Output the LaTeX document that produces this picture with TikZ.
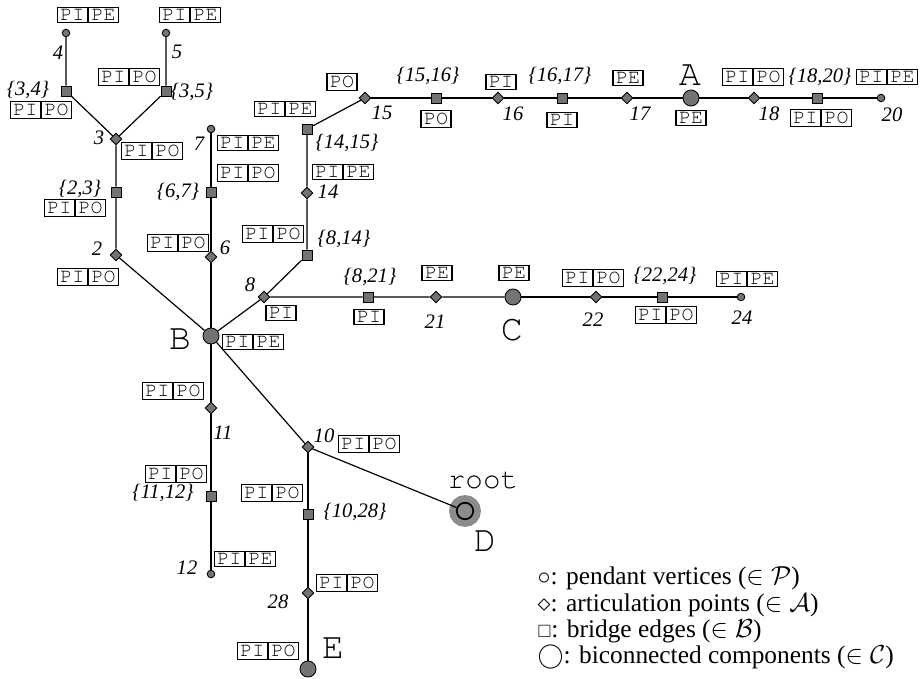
\documentclass[tikz,border=0pt]{standalone}
\usepackage{amsmath,amssymb}
\usepackage{fontspec}
\setmainfont{Liberation Serif}
\setmonofont{TeX Gyre Cursor}
\usepackage{tikz}
\usetikzlibrary{shapes,positioning}

\begin{document}
\begin{tikzpicture}[x=0.0162cm, y=-0.0162cm, line width=0.55pt]
\tikzset{
pend/.style     = {draw, shape=circle, fill=black!55, inner sep=0pt, minimum size=3.5pt, line width=0.4pt},
artic/.style    = {draw, shape=diamond, fill=black!55, inner sep=0pt, minimum size=5.4pt, line width=0.4pt},
bridge/.style   = {draw, shape=rectangle, fill=black!55, inner sep=0pt, minimum size=4.6pt, line width=0.4pt},
bicon/.style    = {draw, shape=circle, fill=black!55, inner sep=0pt, minimum size=7.4pt, line width=0.4pt},
rootc/.style    = {draw, shape=circle, fill=black!45, inner sep=0pt, minimum size=7.6pt, line width=0.8pt,
                   preaction={draw=black!45, line width=7pt}},
tag/.style      = {draw, shape=rectangle, font=\fontsize{9.2}{9}\selectfont\ttfamily, inner xsep=1.4pt, inner ysep=1pt, line width=0.5pt},
tagg/.style     = {tag, shape=rectangle split, rectangle split horizontal, rectangle split parts=2},
num/.style      = {font=\fontsize{9.5}{10}\selectfont\itshape, inner sep=0pt},
big/.style      = {font=\fontsize{17}{17}\selectfont\ttfamily, inner sep=0pt},
legend/.style   = {font=\fontsize{11.7}{12.1}\selectfont, inner sep=0pt, anchor=west, align=left},
}
    \useasboundingbox (0,0) rectangle (921,679);

    % Left subtree nodes
    \node [pend]   (v4)    at (66, 33)   {};
    \node [pend]   (v5)    at (166, 33)  {};
    \node [bridge] (b34)   at (66, 91)   {};
    \node [bridge] (b35)   at (166, 91)  {};
    \node [artic]  (v3)    at (116, 139) {};
    \node [bridge] (b23)   at (116, 192) {};
    \node [artic]  (v2)    at (116, 255) {};
    \node [bicon]  (B)     at (211, 336) {};
    \node [artic]  (v6)    at (211, 257) {};
    \node [bridge] (b67)   at (211, 192) {};
    \node [pend]   (v7)    at (211, 129) {};

    % Left subtree labels
    \node [tagg] (t4)  at (88, 15)   {PI \nodepart{two} PE};
    \node [tagg] (t5)  at (190, 15)  {PI \nodepart{two} PE};
    \node [num]  (n4)  at (58, 53)   {4};
    \node [num]  (n5)  at (177, 52)  {5};
    \node [num]  (n34) at (28, 90)   {\{3,4\}};
    \node [tagg] (t34) at (41, 110)  {PI \nodepart{two} PO};
    \node [tagg] (t35) at (129, 77)  {PI \nodepart{two} PO};
    \node [num]  (n35) at (192, 92)  {\{3,5\}};
    \node [num]  (n3)  at (99, 138)  {3};
    \node [tagg] (t3)  at (152, 151) {PI \nodepart{two} PO};
    \node [num]  (n23) at (80, 189)  {\{2,3\}};
    \node [tagg] (t23) at (75, 208)  {PI \nodepart{two} PO};
    \node [num]  (n2)  at (97, 249)  {2};
    \node [tagg] (t2)  at (88, 277)  {PI \nodepart{two} PO};
    \node [num]  (n7)  at (199, 144) {7};
    \node [tagg] (t7)  at (248, 143) {PI \nodepart{two} PE};
    \node [tagg] (t67) at (248, 173) {PI \nodepart{two} PO};
    \node [num]  (n67) at (178, 192) {\{6,7\}};
    \node [tagg] (t6)  at (178, 243) {PI \nodepart{two} PO};
    \node [num]  (n6)  at (225, 248) {6};
    \node [big]  (lB)  at (180, 339) {B};
    \node [tagg] (tB)  at (253, 342) {PI \nodepart{two} PE};

    % Left subtree edges
    \draw (v4)  -- (b34) -- (v3);
    \draw (v5)  -- (b35) -- (v3);
    \draw (v3)  -- (b23) -- (v2) -- (B);
    \draw (B)   -- (v6)  -- (b67) -- (v7);

    % Right branch nodes
    \node [artic]  (v8)    at (264, 297) {};
    \node [bridge] (b821)  at (368, 297) {};
    \node [artic]  (v21)   at (436, 297) {};
    \node [bicon]  (C)     at (513, 297) {};
    \node [artic]  (v22)   at (596, 297) {};
    \node [bridge] (b2224) at (662, 297) {};
    \node [pend]   (v24)   at (741, 297) {};

    % Right branch labels
    \node [num]  (n8)    at (250, 285) {8};
    \node [tag]  (t8)    at (281, 313) {PI};
    \node [num]  (n821)  at (370, 277) {\{8,21\}};
    \node [tag]  (t821)  at (369, 317) {PI};
    \node [tag]  (t21)   at (437, 273) {PE};
    \node [num]  (n21)   at (435, 322) {21};
    \node [tag]  (tC)    at (514, 273) {PE};
    \node [big]  (lC)    at (512, 330) {C};
    \node [tagg] (t22)   at (593, 278) {PI \nodepart{two} PO};
    \node [num]  (n22)   at (593, 320) {22};
    \node [num]  (n2224) at (665, 276) {\{22,24\}};
    \node [tagg] (t2224) at (666, 315) {PI \nodepart{two} PO};
    \node [tagg] (t24)   at (747, 279) {PI \nodepart{two} PE};
    \node [num]  (n24)   at (742, 318) {24};

    % Right branch edges
    \draw (B)   -- (v8)   -- (b821) -- (v21) -- (C);
    \draw (C)   -- (v22)  -- (b2224) -- (v24);

    % Upper branch nodes
    \node [bridge] (b814)  at (307, 255) {};
    \node [artic]  (v14)   at (307, 193) {};
    \node [bridge] (b1415) at (307, 129) {};
    \node [artic]  (v15)   at (365, 98)  {};
    \node [bridge] (b1516) at (436, 98)  {};
    \node [artic]  (v16)   at (498, 98)  {};
    \node [bridge] (b1617) at (562, 98)  {};
    \node [artic]  (v17)   at (627, 98)  {};
    \node [bicon]  (A)     at (691, 98)  {};
    \node [artic]  (v18)   at (754, 98)  {};
    \node [bridge] (b1820) at (817, 98)  {};
    \node [pend]   (v20)   at (881, 98)  {};

    % Upper branch labels
    \node [tagg] (t814)  at (273, 234) {PI \nodepart{two} PO};
    \node [num]  (n814)  at (344, 239) {\{8,14\}};
    \node [num]  (n14)   at (328, 192) {14};
    \node [tagg] (t14)   at (343, 172) {PI \nodepart{two} PE};
    \node [num]  (n1415) at (347, 143) {\{14,15\}};
    \node [tagg] (t1415) at (285, 109) {PI \nodepart{two} PE};
    \node [tag]  (t15)   at (342, 82)  {PO};
    \node [num]  (n15)   at (382, 113) {15};
    \node [num]  (n1516) at (428, 76)  {\{15,16\}};
    \node [tag]  (t1516) at (436, 119) {PO};
    \node [tag]  (t16)   at (501, 82)  {PI};
    \node [num]  (n16)   at (513, 114) {16};
    \node [num]  (n1617) at (560, 76)  {\{16,17\}};
    \node [tag]  (t1617) at (562, 120) {PI};
    \node [tag]  (t17)   at (628, 78)  {PE};
    \node [num]  (n17)   at (640, 114) {17};
    \node [big]  (lA)    at (690, 75)  {A};
    \node [tag]  (tA)    at (691, 118) {PE};
    \node [tagg] (t18)   at (753, 77)  {PI \nodepart{two} PO};
    \node [num]  (n18)   at (769, 114) {18};
    \node [num]  (n1820) at (820, 77)  {\{18,20\}};
    \node [tagg] (t1820) at (821, 118) {PI \nodepart{two} PO};
    \node [tagg] (t20)   at (887, 77)  {PI \nodepart{two} PE};
    \node [num]  (n20)   at (892, 115) {20};

    % Upper branch edges
    \draw (v8)  -- (b814) -- (v14) -- (b1415) -- (v15);
    \draw (v15) -- (b1516) -- (v16) -- (b1617) -- (v17) -- (A);
    \draw (A)   -- (v18) -- (b1820) -- (v20);

    % Lower subtree nodes
    \node [artic]  (v11)   at (211, 408) {};
    \node [bridge] (b1112) at (211, 496) {};
    \node [pend]   (v12)   at (211, 574) {};
    \node [artic]  (v10)   at (308, 447) {};
    \node [bridge] (b1028) at (308, 514) {};
    \node [artic]  (v28)   at (308, 593) {};
    \node [bicon]  (E)     at (308, 669) {};
    \node [rootc]  (D)     at (465, 511) {};

    % Lower subtree labels
    \node [tagg] (t11)   at (173, 391) {PI \nodepart{two} PO};
    \node [num]  (n11)   at (223, 433) {11};
    \node [tagg] (t1112) at (176, 474) {PI \nodepart{two} PO};
    \node [num]  (n1112) at (163, 493) {\{11,12\}};
    \node [num]  (n12)   at (187, 568) {12};
    \node [tagg] (t12)   at (245, 559) {PI \nodepart{two} PE};
    \node [num]  (n10)   at (324, 436) {10};
    \node [tagg] (t10)   at (369, 444) {PI \nodepart{two} PO};
    \node [tagg] (t1028) at (272, 493) {PI \nodepart{two} PO};
    \node [num]  (n1028) at (355, 512) {\{10,28\}};
    \node [tagg] (t28)   at (347, 583) {PI \nodepart{two} PO};
    \node [num]  (n28)   at (278, 602) {28};
    \node [big]  (lE)    at (333, 648) {E};
    \node [tagg] (tE)    at (268, 651) {PI \nodepart{two} PO};
    \node [font=\fontsize{13.5}{13}\selectfont\ttfamily, inner sep=0pt] (lroot) at (483, 480) {root};
    \node [big]  (lD)    at (485, 541) {D};

    % Lower subtree edges
    \draw (B)   -- (v11) -- (b1112) -- (v12);
    \draw (B)   -- (v10) -- (D);
    \draw (v10) -- (b1028) -- (v28) -- (E);

    % Legend
    \node [legend] (leg) at (537, 618) {$\circ$: pendant vertices ($\in \mathcal{P}$)\\
                                        $\diamond$: articulation points ($\in \mathcal{A}$)\\
                                        $\scriptstyle\square$: bridge edges ($\in \mathcal{B}$)\\
                                        $\bigcirc$: biconnected components ($\in \mathcal{C}$)};
\end{tikzpicture}
\end{document}
